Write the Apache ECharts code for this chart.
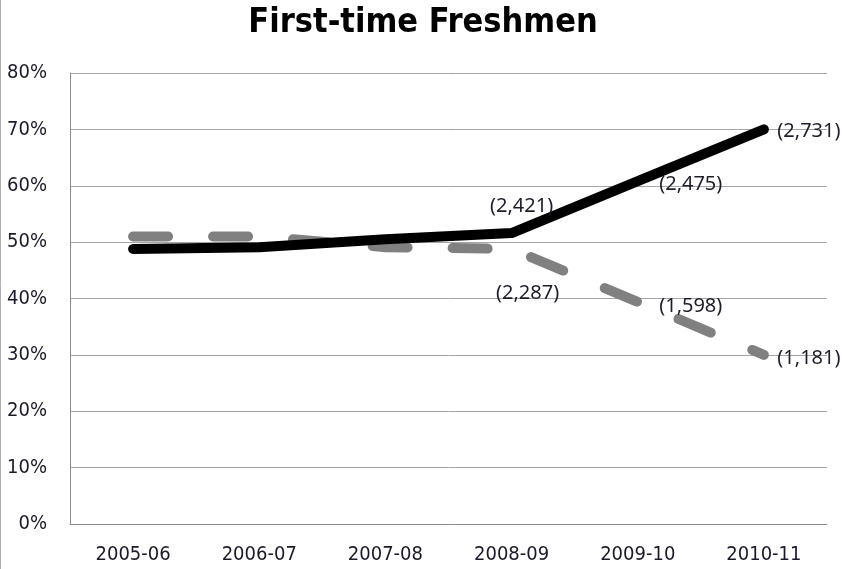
<!DOCTYPE html>
<html>
<head>
<meta charset="utf-8">
<script src="https://cdn.jsdelivr.net/npm/echarts@6/dist/echarts.min.js"></script>
<style>
html,body{margin:0;padding:0;background:#fff;}
#chart{width:846px;height:569px;}
</style>
</head>
<body>
<div id="chart"></div>
<script>
const categories = ['2005-06','2006-07','2007-08','2008-09','2009-10','2010-11'];
const solidValues = [48.8, 49.1, 50.5, 51.6, 60.8, 70.0];
const dashedValues = [51.0, 51.0, 49.1, 48.8, 39.4, 30.0];
const solidLabels = ['', '', '', '(2,421)', '(2,475)', '(2,731)'];
const dashedLabels = ['', '', '', '(2,287)', '(1,598)', '(1,181)'];
const yTicks = [0, 10, 20, 30, 40, 50, 60, 70, 80];

const solidOffsets = [[0,0],[0,0],[0,0],[10,-27],[53,3],[45,2]];
const dashedOffsets = [[0,0],[0,0],[0,0],[16,44],[53,4],[45,3]];

const labelFont = "'Noto Sans', 'DejaVu Sans', sans-serif";
const axisFont = "'DejaVu Sans Condensed', 'Noto Sans', sans-serif";

function buildData(values, labels, offsets) {
  return values.map((v, i) => ({
    value: v,
    label: labels[i] ? {
      show: true,
      formatter: labels[i],
      position: 'inside',
      offset: offsets[i],
      color: '#1e1e2a',
      fontSize: 20,
      fontFamily: labelFont
    } : { show: false }
  }));
}

const chart = echarts.init(document.getElementById('chart'), null, {renderer: 'canvas'});
chart.setOption({
  animation: false,
  backgroundColor: '#ffffff',
  title: {
    text: 'First-time Freshmen',
    left: 'center',
    top: 1,
    textStyle: {
      fontSize: 34,
      fontWeight: 'bold',
      color: '#000',
      fontFamily: axisFont
    }
  },
  graphic: [{
    type: 'line',
    shape: {x1: 0.5, y1: 0, x2: 0.5, y2: 569},
    style: {stroke: '#b0b0b0', lineWidth: 1}
  }],
  grid: {left: 70, right: 19, top: 73, bottom: 45, containLabel: false},
  xAxis: {
    type: 'category',
    data: categories,
    boundaryGap: true,
    axisLine: {show: true, lineStyle: {color: '#8c8c8c', width: 1}},
    axisTick: {show: false},
    axisLabel: {
      color: '#1a1a2a',
      fontSize: 20,
      fontFamily: axisFont,
      margin: 21,
      interval: 0
    }
  },
  yAxis: {
    type: 'value',
    min: yTicks[0],
    max: yTicks[yTicks.length - 1],
    interval: 10,
    axisLine: {show: true, lineStyle: {color: '#8c8c8c', width: 1}},
    axisTick: {show: false},
    splitLine: {show: true, lineStyle: {color: '#a6a6a6', width: 1}},
    axisLabel: {
      formatter: v => v + '%',
      color: '#1a1a2a',
      fontSize: 20,
      fontFamily: axisFont,
      margin: 23
    }
  },
  series: [
    {
      type: 'line',
      data: buildData(dashedValues, dashedLabels, dashedOffsets),
      symbol: 'circle',
      symbolSize: 1,
      itemStyle: {color: 'rgba(0,0,0,0)'},
      lineStyle: {color: '#808080', width: 10, type: [35, 45], cap: 'round', join: 'round'},
      z: 2
    },
    {
      type: 'line',
      data: buildData(solidValues, solidLabels, solidOffsets),
      symbol: 'circle',
      symbolSize: 1,
      itemStyle: {color: 'rgba(0,0,0,0)'},
      lineStyle: {color: '#000000', width: 10, cap: 'round', join: 'round'},
      z: 3
    }
  ]
});
</script>
</body>
</html>
